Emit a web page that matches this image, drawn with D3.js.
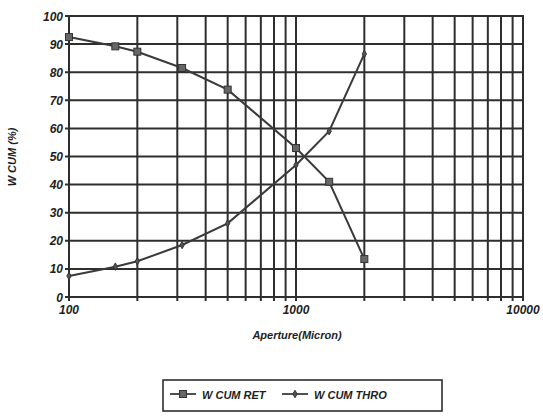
<!DOCTYPE html>
<html><head><meta charset="utf-8">
<script src="https://cdn.jsdelivr.net/npm/d3@7"></script>
<style>body{margin:0;background:#fff}svg{display:block}</style>
</head><body><svg id="c" width="543" height="419"></svg>
<script>
const apertures = [100, 160, 200, 315, 500, 1000, 1400, 2000];
const cumRet  = [92.5, 89.2, 87.3, 81.5, 73.8, 53, 41, 13.5];
const cumThro = [7.5, 10.8, 12.7, 18.5, 26.2, 47, 59, 86.5];
const yTicks = [0,10,20,30,40,50,60,70,80,90,100];
const xTickLabels = [100, 1000, 10000];
const seriesNames = ["W CUM RET", "W CUM THRO"];

const svg = d3.select("#c");
const ink = "#2e2e2e";
const font = "'Liberation Sans', Arial, sans-serif";
const x = d3.scaleLog().domain([100, 10000]).range([69, 523]);
const y = d3.scaleLinear().domain([0, 100]).range([297, 16]);

const gridX = [];
for (let d = 100; d < 10000; d *= 10) for (let k = 1; k <= 10; k++) gridX.push(d * k);
const gx = [...new Set(gridX)];

const g = svg.append("g");
g.selectAll(".hg").data(yTicks).join("line")
  .attr("x1", x(100) - 4).attr("x2", x(10000))
  .attr("y1", d => y(d)).attr("y2", d => y(d))
  .attr("stroke", ink).attr("stroke-width", 2);
g.selectAll(".vg").data(gx).join("line")
  .attr("x1", d => x(d)).attr("x2", d => x(d))
  .attr("y1", y(100) - 1).attr("y2", y(0) + 4)
  .attr("stroke", ink).attr("stroke-width", 2);

const txt = sel => sel.attr("font-family", font).attr("font-weight", "bold")
  .attr("font-style", "italic").attr("fill", "#1e1e1e");

g.selectAll(".yl").data(yTicks).join("text")
  .attr("x", x(100) - 6).attr("y", d => y(d) + 4.5)
  .attr("text-anchor", "end").attr("font-size", 12).call(txt).text(d => d);
g.selectAll(".xl").data(xTickLabels).join("text")
  .attr("x", d => x(d)).attr("y", y(0) + 17)
  .attr("text-anchor", "middle").attr("font-size", 12).call(txt).text(d => d);

svg.append("text").attr("x", 297).attr("y", 339).attr("text-anchor", "middle")
  .attr("font-size", 11).call(txt).text("Aperture(Micron)");
svg.append("text").attr("transform", "translate(16,157) rotate(-90)")
  .attr("text-anchor", "middle").attr("font-size", 11).call(txt).text("W CUM (%)");

const line = d3.line().x(d => x(d[0])).y(d => y(d[1]));
const retPts = apertures.map((a, i) => [a, cumRet[i]]);
const thrPts = apertures.map((a, i) => [a, cumThro[i]]);
svg.append("path").attr("d", line(retPts)).attr("fill", "none").attr("stroke", "#3a3a3a").attr("stroke-width", 2);
svg.append("path").attr("d", line(thrPts)).attr("fill", "none").attr("stroke", "#3a3a3a").attr("stroke-width", 2);
svg.selectAll(".rm").data(retPts).join("rect")
  .attr("x", d => x(d[0]) - 3.5).attr("y", d => y(d[1]) - 3.5)
  .attr("width", 7).attr("height", 7).attr("fill", "#666").attr("stroke", "#333");
svg.selectAll(".tm").data(thrPts).join("path")
  .attr("d", d3.symbol().type(d3.symbolDiamond).size(16)())
  .attr("transform", d => `translate(${x(d[0])},${y(d[1])})`)
  .attr("fill", "#555").attr("stroke", "#333");

const lg = svg.append("g");
lg.append("rect").attr("x", 163).attr("y", 380).attr("width", 279).attr("height", 31)
  .attr("fill", "none").attr("stroke", ink).attr("stroke-width", 1.6);
const legX = [170, 282];
seriesNames.forEach((n, i) => {
  const lx = legX[i];
  lg.append("line").attr("x1", lx).attr("x2", lx + 26).attr("y1", 394).attr("y2", 394)
    .attr("stroke", "#3a3a3a").attr("stroke-width", 1.8);
  if (i === 0) lg.append("rect").attr("x", lx + 9.5).attr("y", 390.5).attr("width", 7).attr("height", 7).attr("fill", "#666").attr("stroke", "#333");
  else lg.append("path").attr("d", d3.symbol().type(d3.symbolDiamond).size(16)()).attr("transform", `translate(${lx + 13},394)`).attr("fill", "#555").attr("stroke", "#333");
  lg.append("text").attr("x", lx + 32).attr("y", 398.5).attr("font-size", 11).call(txt).text(n);
});
</script></body></html>
